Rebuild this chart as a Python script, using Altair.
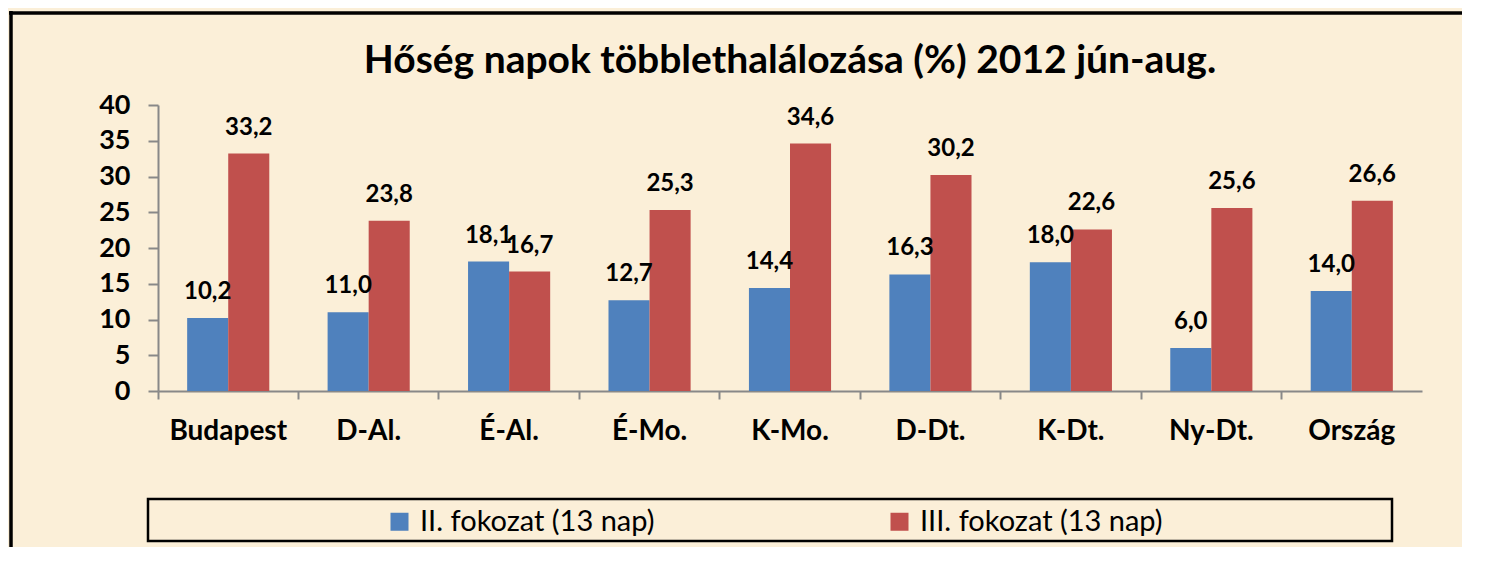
import altair as alt
import pandas as pd

regions = ["Budapest", "D-Al.", "É-Al.", "É-Mo.", "K-Mo.", "D-Dt.", "K-Dt.", "Ny-Dt.", "Ország"]
series = ["II. fokozat (13 nap)", "III. fokozat (13 nap)"]
values_ii = [10.2, 11.0, 18.1, 12.7, 14.4, 16.3, 18.0, 6.0, 14.0]
values_iii = [33.2, 23.8, 16.7, 25.3, 34.6, 30.2, 22.6, 25.6, 26.6]
colors = ["#4f81bd", "#c0504d"]
y_ticks = [0, 5, 10, 15, 20, 25, 30, 35, 40]
title_text = "Hőség napok többlethalálozása (%) 2012 jún-aug."

rows = []
for r, a, b in zip(regions, values_ii, values_iii):
    rows.append({"region": r, "series": series[0], "value": a})
    rows.append({"region": r, "series": series[1], "value": b})
df = pd.DataFrame(rows)

FONT = "Lato"
W, H = 1264, 286

base = alt.Chart(df).encode(
    x=alt.X(
        "region:N",
        sort=regions,
        scale=alt.Scale(paddingInner=0, paddingOuter=0),
        axis=alt.Axis(
            title=None,
            bandPosition=0,
            labelAngle=0,
            labelFont=FONT,
            labelFontWeight="bold",
            labelFontSize=28,
            labelColor="#000000",
            labelPadding=18,
            labelBaseline="top",
            tickSize=8,
            tickColor="#888888",
            tickWidth=2,
            domainColor="#888888",
            domainWidth=2,
        ),
    ),
    xOffset=alt.XOffset("series:N", sort=series, scale=alt.Scale(paddingInner=0, paddingOuter=0.71)),
    y=alt.Y(
        "value:Q",
        scale=alt.Scale(domain=[0, 40], nice=False, zero=True),
        axis=alt.Axis(
            title=None,
            values=y_ticks,
            grid=False,
            labelFont=FONT,
            labelFontWeight="bold",
            labelFontSize=27,
            labelColor="#000000",
            labelPadding=18,
            tickSize=10,
            tickColor="#888888",
            tickWidth=2,
            domainColor="#888888",
            domainWidth=2,
        ),
    ),
)

bars = base.mark_bar().encode(
    color=alt.Color(
        "series:N",
        sort=series,
        scale=alt.Scale(domain=series, range=colors),
        legend=alt.Legend(
            title=None,
            orient="none",
            direction="horizontal",
            legendX=227,
            legendY=402,
            padding=0,
            symbolType="square",
            symbolSize=324,
            symbolStrokeWidth=0,
            labelFont=FONT,
            labelFontSize=29,
            labelColor="#000000",
            labelOffset=6,
            columnPadding=230,
            labelLimit=400,
        ),
    )
)

labels = base.mark_text(
    baseline="bottom", dy=-14, font=FONT, fontWeight="bold", fontSize=24, color="#000000"
).transform_calculate(
    label="replace(format(datum.value, '.1f'), '.', ',')"
).encode(text="label:N")

frame_df = pd.DataFrame({"k": [0]})
legend_box = alt.Chart(frame_df).mark_rect(
    fill=None, stroke="#000000", strokeWidth=2.5
).encode(x=alt.value(-10), x2=alt.value(1234), y=alt.value(394), y2=alt.value(436))

outer_top = alt.Chart(frame_df).mark_rule(color="#000000", strokeWidth=3.5).encode(
    x=alt.value(-149), x2=alt.value(1340), y=alt.value(-92)
)
outer_left = alt.Chart(frame_df).mark_rule(color="#000000", strokeWidth=3.5).encode(
    x=alt.value(-147), y=alt.value(-94), y2=alt.value(460)
)

chart = alt.layer(outer_top, outer_left, bars, labels, legend_box).properties(
    width=W,
    height=H,
    title=alt.TitleParams(
        title_text, font=FONT, fontSize=39, fontWeight="bold", color="#000000",
        anchor="middle", baseline="alphabetic", offset=-103,
    ),
    autosize=alt.AutoSizeParams(type="none"),
    padding={"left": 150, "top": 97, "right": 40, "bottom": 156},
).configure(background="#fbefd8").configure_view(stroke=None)

chart.save("out.html", embed_options={"renderer": "svg", "actions": False})
